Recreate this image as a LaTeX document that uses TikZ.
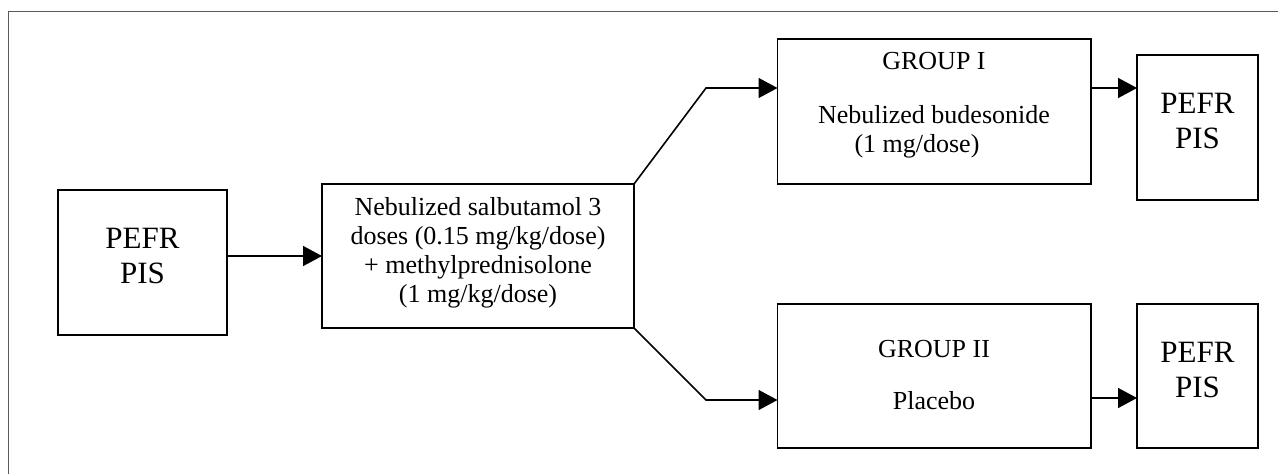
\documentclass[tikz,border=0pt]{standalone}
\usepackage{fontspec}
\setmainfont{Liberation Serif}
\usetikzlibrary{arrows.meta}
\begin{document}
\begin{tikzpicture}[x=1pt,y=-1pt,
  box/.style={draw=black,line width=1.8pt,rectangle,inner sep=0pt,outer sep=0pt},
  txt/.style={inner sep=0pt,align=center,font=\fontsize{26}{29}\selectfont,anchor=base},
  bigtxt/.style={inner sep=0pt,align=center,font=\fontsize{31}{35}\selectfont,anchor=base},
  conn/.style={draw=black,line width=1.6pt,-{Triangle[length=19pt,width=20pt]}},
  frameline/.style={draw=black!65,line width=1.6pt}]
\useasboundingbox (0,0) rectangle (1278,474);
% outer frame (top and left edges)
\coordinate (fa) at (8.5,474);
\coordinate (fb) at (8.5,11.5);
\coordinate (fc) at (1278,11.5);
\draw[frameline] (fa) -- (fb) -- (fc);
% boxes
\node[box,minimum width=169pt,minimum height=145pt] (a) at (142.5,262.5) {};
\node[box,minimum width=312pt,minimum height=144pt] (b) at (478,256) {};
\node[box,minimum width=313.5pt,minimum height=145pt] (g1) at (934.25,111.5) {};
\node[box,minimum width=313.5pt,minimum height=144pt] (g2) at (934.25,376) {};
\node[box,minimum width=121pt,minimum height=145pt] (r1) at (1197.5,127.5) {};
\node[box,minimum width=121pt,minimum height=144pt] (r2) at (1197.5,376) {};
% texts (base anchor = baseline of the last line)
\node[bigtxt] (ta) at (142.5,283) {PEFR\\PIS};
\node[txt] (tb) at (478,302) {Nebulized salbutamol 3\\doses (0.15 mg/kg/dose)\\+ methylprednisolone\\(1 mg/kg/dose)};
\node[txt] (tg1) at (934,152) {GROUP I\\[25pt]Nebulized budesonide\\(1 mg/dose)\hspace*{34pt}};
\node[txt] (tg2) at (934,409) {GROUP II\\[22.6pt]Placebo};
\node[bigtxt] (tr1) at (1197.5,148) {PEFR\\PIS};
\node[bigtxt] (tr2) at (1197.5,397) {PEFR\\PIS};
% connectors
\coordinate (k1) at (706,88);
\coordinate (k2) at (706,400);
\draw[conn] (b.west -| a.east) -- (b.west);
\draw[conn] (b.north east) -- (k1) -- (k1 -| g1.west);
\draw[conn] (b.south east) -- (k2) -- (k2 -| g2.west);
\draw[conn] (k1 -| g1.east) -- (k1 -| r1.west);
\draw[conn] ([yshift=-22pt]g2.east) -- ([yshift=-22pt]r2.west);
\end{tikzpicture}
\end{document}
